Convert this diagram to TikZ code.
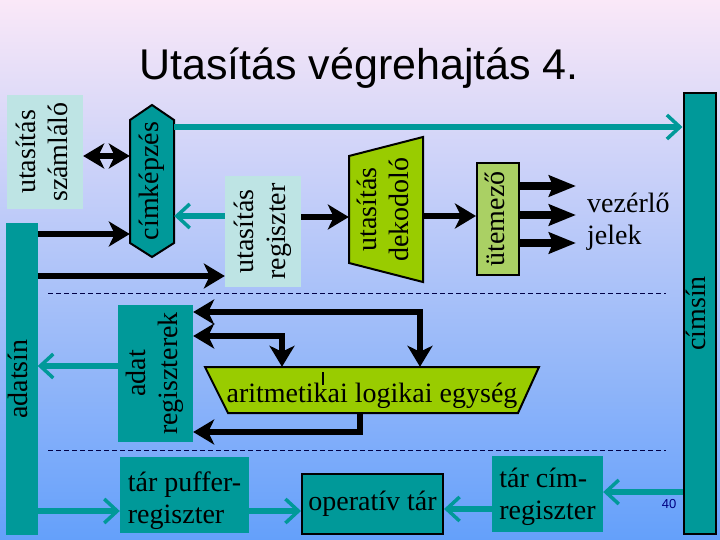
\documentclass[tikz,border=0pt]{standalone}
\usepackage{fontspec}
\setmainfont{Liberation Serif}
\newfontfamily\titlefont{Liberation Sans}
\usepackage{graphicx}
\usetikzlibrary{arrows.meta,calc}

\definecolor{tealc}{RGB}{0,153,153}
\definecolor{paleteal}{RGB}{190,228,228}
\definecolor{limec}{RGB}{153,204,0}
\definecolor{utemc}{RGB}{170,208,100}
\definecolor{bgtop}{RGB}{250,232,248}
\definecolor{bgmid}{RGB}{160,196,246}
\definecolor{bgbot}{RGB}{100,160,250}
\definecolor{dashc}{RGB}{0,0,70}
\definecolor{numc}{RGB}{0,0,130}

\newcommand{\vlabel}[1]{\rotatebox{90}{\begin{tabular}{@{}c@{}}#1\end{tabular}}}

\tikzset{
  lbl/.style={inner sep=0pt, font=\fontsize{28}{32}\selectfont},
  palebox/.style={lbl, fill=paleteal},
  tealbox/.style={lbl, fill=tealc},
  edged/.style={draw=black, line width=2pt},
  blk/.style={line width=6.5pt},
  sig/.style={line width=7.5pt, -{Stealth[length=27pt,width=21pt,inset=4pt]}},
  tealarr/.style={draw=tealc, line width=6pt, -{Straight Barb[length=13pt,width=24pt,line width=3.5pt]}},
  divider/.style={draw=dashc, line width=1pt, dash pattern=on 5pt off 3pt},
}

\begin{document}
\begin{tikzpicture}[x=1pt,y=-1pt,>={Stealth[length=21pt,width=25pt,inset=6pt]}]
\useasboundingbox (0,0) rectangle (720,540);
\shade[top color=bgtop, middle color=bgmid, bottom color=bgbot] (0,0) rectangle (720,540);

% title
\node[font=\titlefont\fontsize{43}{50}\selectfont] (title) at (359,68) {Utasítás végrehajtás 4.};

% buses
\node[tealbox, edged, minimum width=29, minimum height=441] (cimsin) at (699.5,313.5) {\vlabel{címsín}};
\node[tealbox, minimum width=31, minimum height=312] (adatsin) at (21.5,379) {\vlabel{adatsín}};

% control unit
\node[palebox, minimum width=76, minimum height=114] (szaml) at (45,152) {\vlabel{utasítás\\számláló}};
\filldraw[fill=tealc, edged] (130,120) -- (152,105) -- (174,120) -- (174,243) -- (152,257) -- (130,243) -- cycle;
\node[lbl, minimum width=44, minimum height=152] (cimk) at (152,181) {\vlabel{címképzés}};
\node[palebox, minimum width=76, minimum height=111] (utreg) at (263,231.5) {\vlabel{utasítás\\regiszter}};
\filldraw[fill=limec, edged] (349,156) -- (423,137) -- (423,282) -- (349,263) -- cycle;
\node[lbl, minimum width=74, minimum height=145] (dekod) at (386,209.5) {\vlabel{utasítás\\dekodoló}};
\node[lbl, fill=utemc, edged, minimum width=42, minimum height=112] (utem) at (498,219) {\vlabel{ütemező}};
\node[lbl, align=left, anchor=west] (vezerlo) at (587,222) {vezérlő\\jelek};

% dividers
\draw[divider] (48,293) -- (666,293);
\draw[divider] (48,450) -- (666,450);

% execution unit
\node[tealbox, minimum width=75, minimum height=137] (adatreg) at (155.5,373.5) {\vlabel{adat\\regiszterek}};
\filldraw[fill=limec, edged] (205,367) -- (539,367) -- (518,413) -- (228,413) -- cycle;
\node[lbl, minimum width=290, minimum height=46, text height=26pt, text depth=2pt] (alu) at (372,390) {aritmetikai logikai egység};
\draw[line width=1.2pt] (323,372) -- (323,385);

% memory
\node[tealbox, align=left, minimum width=129, minimum height=76] (puffer) at (184.5,495) {\rule{0pt}{31pt}tár puffer-\\regiszter};
\node[tealbox, edged, minimum width=141, minimum height=60] (optar) at (372.5,504) {operatív tár};
\node[tealbox, align=left, minimum width=111, minimum height=76] (tarcim) at (547.5,494) {\rule{0pt}{26pt}tár cím-\\regiszter};
\node[font=\titlefont\fontsize{13}{15}\selectfont, text=numc] (oldal) at (669,504) {40};

% connectors
\draw[blk,<->] (szaml.east |- 0,156) -- (cimk.west |- 0,156);
\draw[tealarr] (cimk.east |- 0,127) -- (cimsin.west |- 0,127);
\draw[blk,->] (adatsin.east |- 0,234) -- (cimk.west |- 0,234);
\draw[blk,->] (adatsin.east |- 0,276) -- (utreg.west |- 0,276);
\draw[tealarr] (utreg.west |- 0,216) -- (cimk.east |- 0,216);
\draw[blk,->] (utreg.east |- 0,217) -- (dekod.west |- 0,217);
\draw[blk,->] (dekod.east |- 0,216) -- (utem.west |- 0,216);
\foreach \y in {186,215,243}
  \draw[sig, shorten >=11pt] (utem.east |- 0,\y) -- (vezerlo.west |- 0,\y);

\draw[blk,<->] (adatreg.east |- 0,312) -| (420,0 |- alu.north);
\draw[blk,<->] (adatreg.east |- 0,336) -| (282,0 |- alu.north);
\draw[blk,->] (360,0 |- alu.south) |- (adatreg.east |- 0,432);
\draw[tealarr] (adatreg.west |- 0,366) -- (adatsin.east |- 0,366);

\draw[tealarr] (adatsin.east |- 0,511) -- (puffer.west |- 0,511);
\draw[tealarr] (puffer.east |- 0,511) -- (optar.west |- 0,511);
\draw[tealarr] (tarcim.west |- 0,509) -- (optar.east |- 0,509);
\draw[tealarr] (cimsin.west |- 0,492) -- (tarcim.east |- 0,492);
\end{tikzpicture}
\end{document}
